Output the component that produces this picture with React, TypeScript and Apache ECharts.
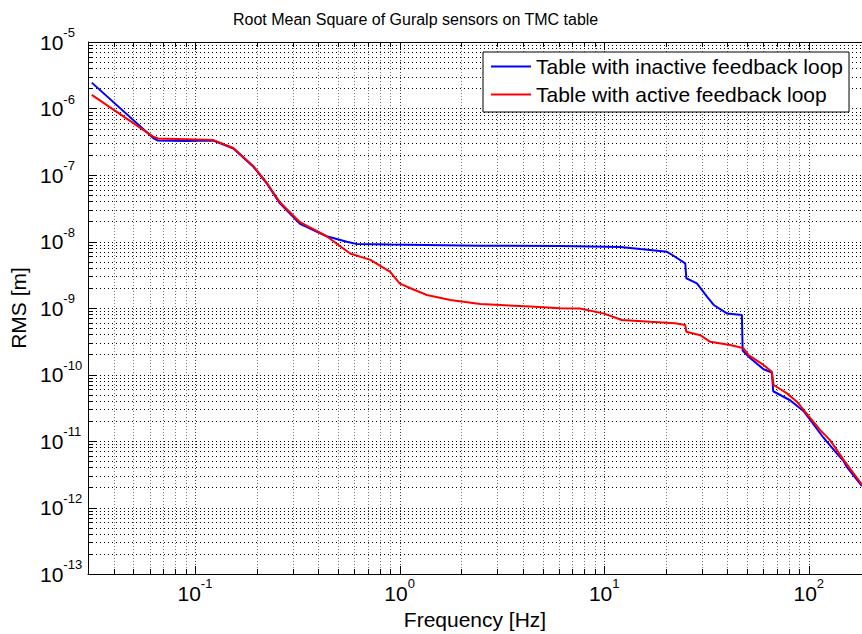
import React, { useEffect, useRef } from 'react';
import * as echarts from 'echarts';

const TITLE = 'Root Mean Square of Guralp sensors on TMC table';
const X_NAME = 'Frequency [Hz]';
const Y_NAME = 'RMS [m]';
const SERIES_NAMES = ['Table with inactive feedback loop', 'Table with active feedback loop'];

const X_MIN = 0.03;
const X_MAX = 182;
const Y_MIN = 1e-13;
const Y_MAX = 1e-5;

// Table with inactive feedback loop (blue)
const inactiveFreq = [
  0.0313, 0.0625, 0.066, 0.09, 0.123, 0.154, 0.193, 0.224, 0.26, 0.326, 0.44, 0.552, 0.618, 0.89,
  2.47, 6.1, 12, 15, 20.3, 22.2, 24.9, 25.2, 28.4, 31.8, 34.3, 39.8, 47.1, 47.5, 51.8, 60.1, 66,
  67, 81, 94.4, 118, 137, 148, 153, 182,
];
const inactiveRms = [
  2.45e-6, 3.6e-7, 3.3e-7, 3.25e-7, 3.3e-7, 2.5e-7, 1.33e-7, 7.5e-8, 3.75e-8, 1.85e-8, 1.2e-8, 9.9e-9, 9.2e-9, 9.0e-9,
  8.65e-9, 8.55e-9, 8.3e-9, 7.7e-9, 7.0e-9, 5.9e-9, 4.7e-9, 2.8e-9, 2.35e-9, 1.48e-9, 1.11e-9, 8.3e-10, 7.85e-10, 2.3e-10, 1.75e-10, 1.2e-10, 1.07e-10,
  5.6e-11, 4.1e-11, 2.8e-11, 1.12e-11, 6.5e-12, 5.0e-12, 4.1e-12, 2.1e-12,
];

// Table with active feedback loop (red)
const activeFreq = [
  0.0313, 0.0625, 0.066, 0.09, 0.123, 0.154, 0.193, 0.224, 0.26, 0.326, 0.44, 0.573, 0.72, 0.9,
  1.0, 1.13, 1.36, 1.77, 2.48, 4.35, 6.1, 7.6, 9.9, 12.2, 16.8, 22.2, 24.9, 25.2, 29.5, 33, 41.3,
  48, 50.8, 60.1, 66, 67.3, 78.3, 87.5, 96.1, 113.8, 127, 148, 182,
];
const activeRms = [
  1.6e-6, 3.77e-7, 3.55e-7, 3.45e-7, 3.35e-7, 2.55e-7, 1.36e-7, 7.7e-8, 3.9e-8, 1.95e-8, 1.2e-8, 6.6e-9, 5.3e-9, 3.5e-9,
  2.35e-9, 1.98e-9, 1.57e-9, 1.32e-9, 1.15e-9, 1.05e-9, 9.9e-10, 9.8e-10, 8.3e-10, 6.6e-10, 6.2e-10, 5.9e-10, 5.55e-10, 4.4e-10, 3.9e-10, 3.1e-10, 2.78e-10,
  2.48e-10, 1.96e-10, 1.39e-10, 1.1e-10, 6.95e-11, 5.2e-11, 3.9e-11, 2.75e-11, 1.46e-11, 1.03e-11, 5.2e-12, 2.2e-12,
];

// Decades / mantissas used for the log grid
const X_DECADES = [-2, -1, 0, 1, 2];
const Y_DECADES = [-13, -12, -11, -10, -9, -8, -7, -6];
const MANTISSAS = [1, 2, 3, 4, 5, 6, 7, 8, 9];

const FONT = "'Liberation Sans', Arial, Helvetica, sans-serif";

function isPow10(v: number) {
  const e = Math.log10(v);
  return Math.abs(e - Math.round(e)) < 1e-6;
}

function powLabel(v: number) {
  if (!isPow10(v)) return '';
  const e = Math.round(Math.log10(v));
  return `{b|10}{s|${e}}`;
}

const richLabel = {
  b: { fontSize: 21, lineHeight: 32, fontFamily: FONT, color: '#000' },
  s: { fontSize: 13, lineHeight: 13, verticalAlign: 'top', fontFamily: FONT, color: '#000' },
};

export default function App() {
  const ref = useRef<HTMLDivElement>(null);

  useEffect(() => {
    if (!ref.current) return;
    const chart = echarts.init(ref.current, undefined, { renderer: 'svg' });

    const gridData: number[][] = [];
    X_DECADES.forEach((d) => {
      MANTISSAS.forEach((m) => {
        const v = m * Math.pow(10, d);
        if (v > X_MIN * 1.0001 && v < X_MAX) gridData.push([v, Y_MIN, 0, m === 1 ? 1 : 0]);
      });
    });
    Y_DECADES.forEach((d) => {
      MANTISSAS.forEach((m) => {
        const v = m * Math.pow(10, d);
        if (v > Y_MIN * 1.0001 && v < Y_MAX * 0.9999) gridData.push([X_MIN, v, 1, m === 1 ? 1 : 0]);
      });
    });
    gridData.push([X_MIN, Y_MAX, 2, 1]);

    const crisp = (n: number) => Math.round(n) + 0.5;

    const option: any = {
      animation: false,
      backgroundColor: '#fff',
      title: {
        text: TITLE,
        left: 228,
        top: 6,
        textStyle: { fontSize: 16, fontWeight: 'normal', color: '#000', fontFamily: FONT },
      },
      legend: {
        orient: 'vertical',
        left: 483,
        top: 52,
        data: SERIES_NAMES,
        icon: 'rect',
        itemWidth: 40,
        itemHeight: 2,
        itemGap: 7,
        padding: [4, 6, 7, 8],
        backgroundColor: '#fff',
        borderColor: '#000',
        borderWidth: 1,
        borderRadius: 0,
        textStyle: { fontSize: 21, color: '#000', fontFamily: FONT, lineHeight: 20 },
      },
      grid: { left: 88, top: 42, right: 0, bottom: 60, outerBoundsMode: 'none', containLabel: false },
      xAxis: {
        type: 'log',
        logBase: 10,
        min: X_MIN,
        max: X_MAX,
        name: X_NAME,
        nameLocation: 'middle',
        nameGap: 35,
        nameTextStyle: { fontSize: 21, color: '#000', fontFamily: FONT },
        axisLine: { show: true, lineStyle: { color: '#000', width: 1 } },
        axisTick: { show: false },
        splitLine: { show: false },
        minorTick: { show: false },
        minorSplitLine: { show: false },
        axisLabel: {
          margin: 3,
          formatter: (v: number) => powLabel(v),
          rich: richLabel,
          showMinLabel: true,
          showMaxLabel: true,
        },
      },
      yAxis: {
        type: 'log',
        logBase: 10,
        min: Y_MIN,
        max: Y_MAX,
        splitNumber: 8,
        name: Y_NAME,
        nameLocation: 'middle',
        nameGap: 49,
        nameRotate: 90,
        nameTextStyle: { fontSize: 21, color: '#000', fontFamily: FONT },
        axisLine: { show: true, lineStyle: { color: '#000', width: 1 } },
        axisTick: { show: false },
        splitLine: { show: false },
        minorTick: { show: false },
        minorSplitLine: { show: false },
        axisLabel: {
          margin: 48,
          align: 'left',
          formatter: (v: number) => powLabel(v),
          rich: richLabel,
          showMinLabel: true,
          showMaxLabel: true,
        },
      },
      series: [
        {
          type: 'custom',
          name: 'grid',
          z: 1,
          silent: true,
          coordinateSystem: 'cartesian2d',
          data: gridData,
          renderItem: (params: any, api: any) => {
            const kind = api.value(2);
            const major = api.value(3) === 1;
            if (kind === 0) {
              const x = api.value(0);
              const p1 = api.coord([x, Y_MIN]);
              const p2 = api.coord([x, Y_MAX]);
              const cx = crisp(p1[0]);
              const len = major ? 8 : 5;
              return {
                type: 'group',
                children: [
                  {
                    type: 'line',
                    shape: { x1: cx, y1: p1[1], x2: cx, y2: p2[1] },
                    style: { stroke: major ? '#444' : '#777', lineWidth: 1, lineDash: [1, 2] },
                  },
                  {
                    type: 'line',
                    shape: { x1: cx, y1: p1[1], x2: cx, y2: p1[1] - len },
                    style: { stroke: '#000', lineWidth: 1 },
                  },
                  {
                    type: 'line',
                    shape: { x1: cx, y1: p2[1], x2: cx, y2: p2[1] + len },
                    style: { stroke: '#000', lineWidth: 1 },
                  },
                ],
              };
            } else if (kind === 1) {
              const y = api.value(1);
              const p1 = api.coord([X_MIN, y]);
              const p2 = api.coord([X_MAX, y]);
              const cy = crisp(p1[1]);
              const len = major ? 8 : 5;
              return {
                type: 'group',
                children: [
                  {
                    type: 'line',
                    shape: { x1: p1[0], y1: cy, x2: p2[0], y2: cy },
                    style: { stroke: '#000', lineWidth: 1, lineDash: [1, 3] },
                  },
                  {
                    type: 'line',
                    shape: { x1: p1[0], y1: cy, x2: p1[0] + len, y2: cy },
                    style: { stroke: '#000', lineWidth: 1 },
                  },
                ],
              };
            } else {
              const p1 = api.coord([X_MIN, Y_MAX]);
              const p2 = api.coord([X_MAX, Y_MAX]);
              const cy = crisp(p1[1]);
              return {
                type: 'line',
                shape: { x1: p1[0], y1: cy, x2: p2[0], y2: cy },
                style: { stroke: '#000', lineWidth: 1 },
              };
            }
          },
        },
        {
          type: 'line',
          name: SERIES_NAMES[0],
          z: 3,
          symbol: 'none',
          showSymbol: false,
          color: '#0000ff',
          itemStyle: { color: '#0000ff' },
          lineStyle: { color: '#0000ff', width: 2 },
          data: inactiveFreq.map((f, i) => [f, inactiveRms[i]]),
        },
        {
          type: 'line',
          name: SERIES_NAMES[1],
          z: 4,
          symbol: 'none',
          showSymbol: false,
          color: '#ff0000',
          itemStyle: { color: '#ff0000' },
          lineStyle: { color: '#ff0000', width: 2 },
          data: activeFreq.map((f, i) => [f, activeRms[i]]),
        },
      ],
    };

    chart.setOption(option);
    return () => {
      chart.dispose();
    };
  }, []);

  return (
    <div
      ref={ref}
      style={{ position: 'absolute', left: 0, top: 0, width: 862, height: 634, background: '#fff' }}
    />
  );
}
